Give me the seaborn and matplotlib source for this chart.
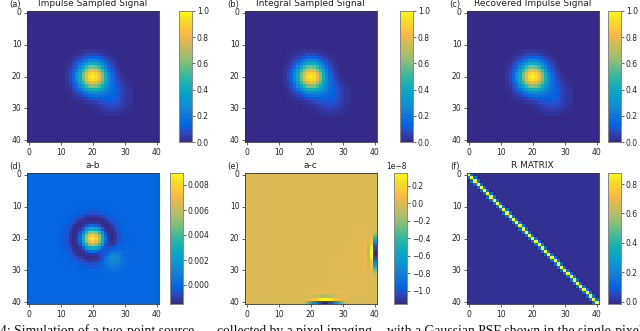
import numpy as np
import matplotlib
matplotlib.use("Agg")
import matplotlib.pyplot as plt
from matplotlib.colors import LinearSegmentedColormap
import seaborn as sns

GRID = 41
PANELS = ["(a)", "(b)", "(c)", "(d)", "(e)", "(f)"]
TITLES = ["Impulse Sampled Signal", "Integral Sampled Signal", "Recovered Impulse Signal",
          "a-b", "a-c", "R MATRIX"]
CAPTION_PARTS = ["4: Simulation of a two-point source", "collected by a pixel imaging",
                 "with a Gaussian PSF shown in the single-pixel"]
CAPTION_X = [0, 217, 387]

PARULA_IDX = [0, 5, 8, 12, 16, 20, 24, 28, 32, 36, 40, 44, 48, 52, 55, 59, 63]
PARULA = [(0.2081, 0.1663, 0.5292), (0.1707, 0.2919, 0.7792), (0.0117, 0.3875, 0.8820),
          (0.0498, 0.4586, 0.8641), (0.0793, 0.5200, 0.8312), (0.0343, 0.5966, 0.8199),
          (0.0228, 0.6535, 0.7768), (0.0843, 0.6928, 0.7062), (0.2178, 0.7250, 0.6193),
          (0.3953, 0.7459, 0.5244), (0.5709, 0.7485, 0.4494), (0.7184, 0.7411, 0.3905),
          (0.8507, 0.7299, 0.3360), (0.9739, 0.7314, 0.2666), (0.9955, 0.7861, 0.1967),
          (0.9626, 0.8705, 0.1309), (0.9763, 0.9831, 0.0538)]

# Panel (a), percent of peak, rows/cols 12..32
A_START = 12
A_PCT = [
    [0,0,0,1,1,2,3,3,3,3,3,2,1,1,0,0,0,0,0,0,0],
    [0,1,1,2,3,4,6,7,7,7,6,4,3,2,1,1,0,0,0,0,0],
    [0,1,2,4,6,9,12,14,15,14,12,9,6,4,2,1,0,0,0,0,0],
    [1,2,4,7,11,16,21,25,26,25,21,16,11,7,4,2,1,0,0,0,0],
    [1,3,6,11,18,26,34,40,42,40,34,26,18,11,6,3,1,0,0,0,0],
    [2,4,9,16,26,38,50,59,62,59,50,38,26,16,9,4,2,0,0,0,0],
    [3,6,12,21,34,50,65,77,81,77,65,50,34,21,12,6,3,1,0,0,0],
    [3,7,14,25,40,59,77,90,95,90,77,59,40,25,15,8,4,1,1,0,0],
    [3,7,15,26,42,62,81,95,100,95,81,63,44,28,17,9,5,2,1,0,0],
    [3,7,14,25,40,59,78,91,96,91,78,61,43,28,18,10,6,3,2,1,0],
    [3,6,12,21,34,50,65,77,82,78,67,54,39,26,18,11,8,5,2,1,1],
    [2,4,9,16,26,38,50,60,63,61,54,43,33,24,17,12,9,6,4,2,1],
    [1,3,6,11,18,26,34,41,44,43,39,33,27,22,17,14,10,7,5,3,2],
    [1,2,4,7,11,16,21,26,28,28,26,24,21,18,15,13,10,7,4,3,2],
    [0,1,2,4,6,9,12,15,17,18,18,17,16,15,14,12,10,7,5,3,2],
    [0,1,1,2,3,4,6,8,9,10,11,12,13,13,12,12,10,7,4,3,2],
    [0,0,0,1,1,2,3,4,5,6,8,9,10,11,10,10,8,6,4,3,2],
    [0,0,0,0,0,0,1,1,2,3,4,6,7,8,8,8,7,5,4,2,1],
    [0,0,0,0,0,0,0,0,1,1,2,4,5,5,6,5,5,4,2,1,1],
    [0,0,0,0,0,0,0,0,1,1,2,2,3,3,4,3,3,2,2,1,1],
    [0,0,0,0,0,0,0,0,0,1,1,1,2,2,2,2,2,1,1,1,0],
]

# Panel (d), a-b in units of 1e-4, rows/cols 8..32
D_START = 8
D_E4 = [
    [0,0,0,0,0,0,0,0,0,0,0,0,0,0,0,0,0,0,0,0,0,0,0,0,0],
    [0,0,0,0,0,0,0,0,0,0,-1,-1,-1,-1,-1,0,0,0,0,0,0,0,0,0,0],
    [0,0,0,0,0,0,0,-1,-1,-1,-1,-1,-1,-1,-1,-1,-1,-1,0,0,0,0,0,0,0],
    [0,0,0,0,0,0,-1,-1,-2,-2,-3,-3,-3,-3,-3,-2,-2,-1,-1,0,0,0,0,0,0],
    [0,0,0,0,0,-1,-1,-2,-3,-4,-5,-6,-6,-6,-5,-4,-3,-2,-1,-1,0,0,0,0,0],
    [0,0,0,0,-1,-2,-3,-4,-6,-8,-11,-12,-12,-12,-11,-8,-6,-4,-3,-2,-1,0,0,0,0],
    [0,0,0,-1,-1,-3,-4,-7,-11,-13,-15,-15,-15,-15,-15,-13,-11,-7,-4,-3,-1,-1,0,0,0],
    [0,0,-1,-1,-2,-4,-7,-12,-14,-15,-13,-12,-12,-12,-13,-15,-14,-12,-7,-4,-2,-1,-1,0,0],
    [0,0,-1,-2,-3,-6,-11,-14,-15,-12,-7,0,3,0,-7,-12,-15,-14,-11,-6,-3,-2,-1,0,0],
    [0,0,-1,-2,-4,-8,-13,-15,-12,-3,15,26,30,26,15,-3,-12,-15,-13,-8,-4,-2,-1,0,0],
    [0,-1,-1,-3,-5,-11,-15,-13,-7,15,34,50,55,50,34,15,-7,-13,-15,-11,-5,-3,-1,-1,0],
    [0,-1,-1,-3,-6,-12,-15,-12,0,26,50,68,78,68,50,26,0,-12,-15,-12,-6,-3,-1,-1,0],
    [0,-1,-1,-3,-6,-12,-15,-12,3,30,55,78,90,78,55,30,3,-12,-15,-12,-6,-3,-1,-1,0],
    [0,-1,-1,-3,-6,-12,-15,-12,0,26,50,68,78,68,50,26,1,-11,-14,-11,-5,-3,-1,-1,0],
    [0,-1,-1,-3,-5,-11,-15,-13,-7,15,34,50,55,50,35,16,-5,-11,-12,-9,-3,-2,0,-1,0],
    [0,0,-1,-2,-4,-8,-13,-15,-12,-3,15,26,30,26,16,-1,-5,-6,-4,-2,0,0,0,0,0],
    [0,0,-1,-2,-3,-6,-11,-14,-15,-12,-7,0,3,1,-4,-5,-4,-1,2,4,4,2,1,1,0],
    [0,0,-1,-1,-2,-4,-7,-12,-14,-15,-13,-12,-12,-11,-9,-6,-1,2,9,10,8,5,1,1,0],
    [0,0,0,-1,-1,-3,-4,-7,-11,-13,-15,-15,-15,-14,-11,-5,1,9,14,13,10,5,3,1,0],
    [0,0,0,0,-1,-2,-3,-4,-6,-8,-11,-12,-12,-11,-9,-2,4,10,13,12,9,6,2,1,0],
    [0,0,0,0,0,-1,-1,-2,-3,-4,-5,-6,-6,-5,-3,0,4,8,10,9,7,4,2,1,0],
    [0,0,0,0,0,0,-1,-1,-2,-2,-3,-3,-3,-3,-2,0,2,5,5,6,4,2,1,0,0],
    [0,0,0,0,0,0,0,-1,-1,-1,-1,-1,-1,-1,0,0,1,1,3,2,2,1,1,0,0],
    [0,0,0,0,0,0,0,0,0,0,-1,-1,-1,-1,-1,0,1,1,1,1,1,0,0,0,0],
    [0,0,0,0,0,0,0,0,0,0,0,0,0,0,0,0,0,0,0,0,0,0,0,0,0],
]

# Panel (e), a-c in units of 1e-10, rows/cols 16..40
E_START = 16
E_E10 = [
    [0,0,0,0,0,0,0,0,0,0,0,0,0,0,0,0,0,0,2,0,2,0,0,0,0],
    [0,0,0,0,0,0,0,0,0,0,0,0,0,0,0,0,0,0,2,0,2,0,0,0,-3],
    [0,0,0,0,0,0,0,0,0,0,0,0,0,0,0,0,0,0,2,0,2,0,0,1,-10],
    [0,0,0,0,0,0,0,0,0,0,0,0,0,0,0,0,0,0,2,0,2,0,-1,2,-25],
    [0,0,0,0,0,0,0,0,2,0,2,0,2,0,2,0,3,0,3,0,3,4,-2,6,-45],
    [0,0,0,0,0,0,0,0,0,0,0,0,0,0,0,0,2,0,2,0,2,4,-3,12,-70],
    [0,0,0,0,0,0,0,0,2,0,2,0,2,0,2,0,3,0,3,0,3,4,-6,20,-90],
    [0,0,0,0,0,0,0,0,0,0,0,0,0,0,0,0,2,0,2,0,2,4,-10,30,-105],
    [0,0,0,0,0,0,0,0,2,0,2,0,2,0,2,0,3,0,3,0,3,4,-12,35,-115],
    [0,0,0,0,0,0,0,0,0,0,0,0,0,0,0,0,2,0,2,0,2,4,-12,35,-115],
    [0,0,0,0,0,0,0,0,2,0,2,0,2,0,2,0,3,0,3,0,3,4,-10,30,-105],
    [0,0,0,0,0,0,0,0,0,0,0,0,0,0,0,0,2,0,2,0,2,4,-6,20,-90],
    [0,0,0,0,0,0,0,0,2,0,2,0,2,0,2,0,3,0,3,0,3,4,-3,12,-70],
    [0,0,0,0,0,0,0,0,0,0,0,0,0,0,0,0,2,0,2,0,2,4,-2,6,-45],
    [0,0,0,0,0,0,0,0,2,0,2,0,2,0,2,0,3,0,3,0,3,4,-1,2,-25],
    [0,0,0,0,0,0,0,0,0,0,0,0,0,0,0,0,2,0,2,0,2,0,0,1,-10],
    [0,0,0,0,3,0,3,0,3,0,3,0,3,0,3,0,3,0,3,0,3,0,0,0,-3],
    [0,0,0,0,0,0,0,0,0,0,0,0,0,0,0,0,2,0,2,0,2,0,0,0,0],
    [0,0,0,0,3,0,3,0,3,0,3,0,3,0,3,0,3,0,3,0,3,0,0,0,0],
    [0,0,0,0,0,0,0,0,0,0,0,0,0,0,0,0,2,0,2,0,2,0,0,0,0],
    [0,0,0,0,3,0,3,0,3,0,3,0,3,0,3,0,3,0,3,0,3,0,0,0,0],
    [0,0,0,0,4,4,4,4,4,4,4,4,4,4,4,0,2,0,2,0,2,0,0,0,0],
    [0,0,0,-1,-2,-3,-6,-10,-12,-12,-10,-6,-3,-2,-1,0,0,0,0,0,0,0,0,0,0],
    [0,0,1,2,6,12,20,30,35,35,30,20,12,6,2,1,0,0,0,0,0,0,0,0,0],
    [0,-3,-10,-25,-45,-70,-90,-105,-115,-115,-105,-90,-70,-45,-25,-10,-3,0,0,0,0,0,0,0,0],
]

# Panel (f): value on the diagonal and on the first and second off-diagonals
R_BANDS = [0.875, 0.14, -0.016]

# Colour ranges
LIMITS = [(0.0, 1.0), (0.0, 1.0), (0.0, 1.0), (-0.00152, 0.00896), (-1.153e-8, 0.349e-8), (-0.016, 0.875)]

AX_LEFT = [27, 245, 467]
AX_W = 131.5
ROW_TOP = [11, 173]
AX_H = 131
CB_LEFT = [[179, 400, 608], [170, 394, 608]]
CB_W = 13
W, H = 640, 331


def embed(window, start, scale):
    out = np.zeros((GRID, GRID))
    arr = np.array(window, dtype=float) * scale
    n = arr.shape[0]
    out[start:start + n, start:start + n] = arr
    return out


a = embed(A_PCT, A_START, 0.01)
d = embed(D_E4, D_START, 1e-4)
e = embed(E_E10, E_START, 1e-10)
b = a - d
c = a - e
R = np.zeros((GRID, GRID))
for k, v in enumerate(R_BANDS):
    R += np.diag(np.full(GRID - k, v), k)
    if k:
        R += np.diag(np.full(GRID - k, v), -k)

sns.set_theme(style="white", rc={"font.family": "DejaVu Sans"})
cmap = LinearSegmentedColormap.from_list(
    "parula", [(i / 63, col) for i, col in zip(PARULA_IDX, PARULA)], N=256)
fig = plt.figure(figsize=(W / 100, H / 100), dpi=100)
fig.patch.set_facecolor("white")


def box(x, y, w, h):
    return [x / W, 1 - (y + h) / H, w / W, h / H]


fields = [a, b, c, d, e, R]
for n, field in enumerate(fields):
    row, col = divmod(n, 3)
    ax = fig.add_axes(box(AX_LEFT[col], ROW_TOP[row], AX_W, AX_H))
    cax = fig.add_axes(box(CB_LEFT[row][col], ROW_TOP[row], CB_W, AX_H))
    sns.heatmap(field, ax=ax, cbar_ax=cax, cmap=cmap, vmin=LIMITS[n][0], vmax=LIMITS[n][1],
                xticklabels=10, yticklabels=10)
    ax.set_aspect("auto")
    ax.tick_params(axis="both", length=2, width=0.5, pad=2, labelsize=5.5, color="#222222",
                   labelcolor="#222222", bottom=True, left=True)
    ax.tick_params(axis="x", labelrotation=0)
    ax.tick_params(axis="y", labelrotation=0)
    for s in ax.spines.values():
        s.set_visible(True)
        s.set_linewidth(0.6)
        s.set_color("#333333")
    ax.text(0.5, 1.0 + 4.7 / AX_H, TITLES[n], transform=ax.transAxes, ha="center", va="baseline",
            fontsize=6.5, color="#222222", clip_on=False)
    ax.text(-12 / AX_W, 1.0 + 2.5 / AX_H, PANELS[n], transform=ax.transAxes, ha="center", va="bottom",
            fontsize=6.0, color="#222222", clip_on=False)
    cax.tick_params(axis="y", length=2, width=0.5, pad=1.5, labelsize=5.5, color="#222222",
                    labelcolor="#222222", right=True, left=False)
    cax.yaxis.get_offset_text().set_fontsize(5.5)
    for s in cax.spines.values():
        s.set_visible(True)
        s.set_linewidth(0.6)
        s.set_color("#888888")

for x, part in zip(CAPTION_X, CAPTION_PARTS):
    fig.text(x / W, 1 - 335 / H, part, family="Liberation Serif", fontsize=9.8, color="#111111",
             ha="left", va="baseline")
fig.savefig("out.png", dpi=100)
